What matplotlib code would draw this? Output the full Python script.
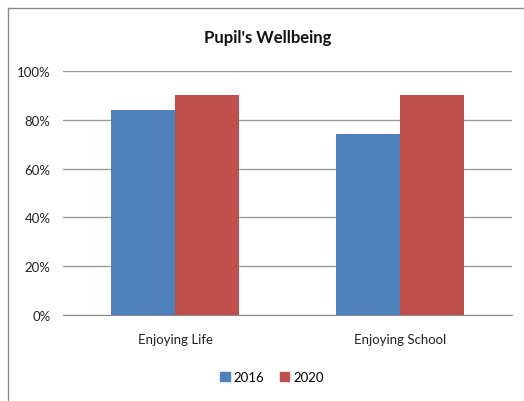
import matplotlib
matplotlib.use("Agg")
import matplotlib.pyplot as plt
import numpy as np
from matplotlib.lines import Line2D
from matplotlib.patches import Patch

# Datos de la encuesta
categories = ["Enjoying Life", "Enjoying School"]
years = ["2016", "2020"]
values_2016 = [84, 74]
values_2020 = [90, 90]
y_ticks = [0, 20, 40, 60, 80, 100]
y_tick_labels = ["0%", "20%", "40%", "60%", "80%", "100%"]

BLUE = "#4F81BD"
RED = "#C0504D"

plt.rcParams["font.family"] = ["Lato", "DejaVu Sans"]

fig = plt.figure(figsize=(5.24, 4.02), dpi=100)
ax = fig.add_axes([63 / 524, 1 - 316 / 402, 449 / 524, 244 / 402])

x = np.arange(len(categories))
width = 0.285
ax.bar(x - width / 2, values_2016, width, color=BLUE, label=years[0], zorder=3)
ax.bar(x + width / 2, values_2020, width, color=RED, label=years[1], zorder=3)

ax.set_xlim(-0.5, len(categories) - 0.5)
ax.set_ylim(0, 100)
ax.set_yticks(y_ticks)
ax.set_yticklabels(y_tick_labels, fontsize=9.5, color="#222222")
ax.set_xticks(x)
ax.set_xticklabels(categories, fontsize=9.5, color="#222222")
ax.tick_params(axis="both", length=0)
ax.tick_params(axis="y", pad=9)
ax.tick_params(axis="x", pad=13)
ax.grid(axis="y", color="#9a9a9a", linewidth=1.0, zorder=0)

for side in ("top", "right", "left"):
    ax.spines[side].set_visible(False)
ax.spines["bottom"].set_color("#8a8a8a")

fig.text(268 / 524, 1 - 38 / 402, "Pupil's Wellbeing", ha="center", va="center",
         fontsize=12, fontweight="bold", color="#111111")

handles = [Patch(color=BLUE, label=years[0]), Patch(color=RED, label=years[1])]
fig.legend(handles=handles, loc="center", bbox_to_anchor=(272 / 524, 1 - 378 / 402),
           ncol=2, frameon=False, fontsize=9.5, handlelength=0.7, handleheight=0.7,
           handletextpad=0.3, columnspacing=1.2)

# Marco del área del gráfico
fig.add_artist(Line2D([8 / 524, 1], [1 - 9 / 402, 1 - 9 / 402], color="#8a8a8a",
                      linewidth=1.0, transform=fig.transFigure))
fig.add_artist(Line2D([8 / 524, 8 / 524], [0, 1 - 9 / 402], color="#8a8a8a",
                      linewidth=1.0, transform=fig.transFigure))

fig.savefig("out.png", dpi=100)
